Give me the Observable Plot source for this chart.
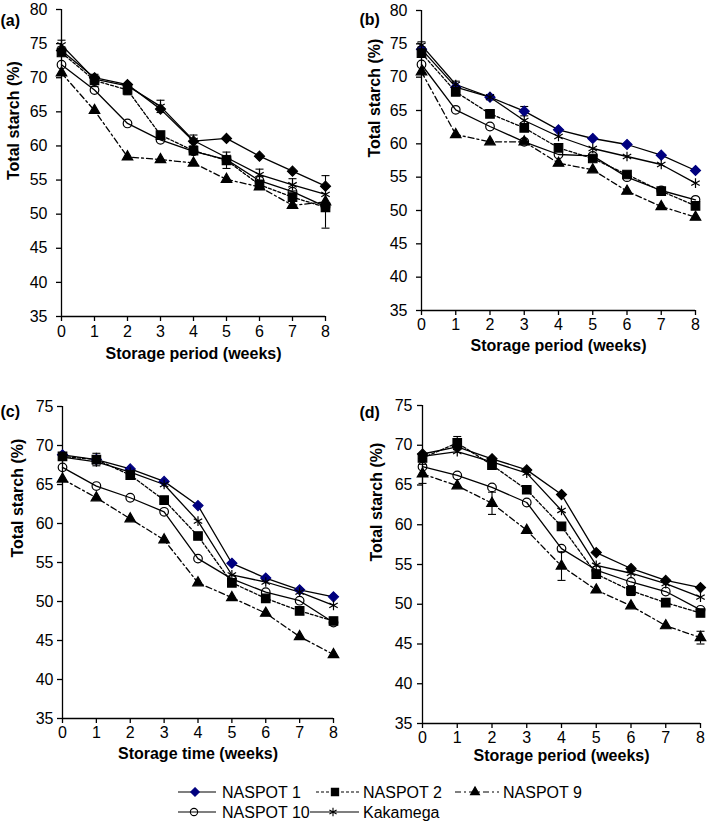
<!DOCTYPE html>
<html><head><meta charset="utf-8">
<script src="https://cdn.jsdelivr.net/npm/d3@7"></script>
<script src="https://cdn.jsdelivr.net/npm/@observablehq/plot@0.6"></script>
<style>
body{margin:0;background:#fff;}
#root{position:relative;width:709px;height:830px;font-family:"Liberation Sans",Arial,sans-serif;}
#root svg{position:absolute;overflow:visible;}
</style></head><body><div id="root"></div>
<script>
const weeks = [0,1,2,3,4,5,6,7,8];
const varieties = ["NASPOT 1","NASPOT 2","NASPOT 9","NASPOT 10","Kakamega"];
const yTicksTop = [35,40,45,50,55,60,65,70,75,80];
const yTicksBottom = [35,40,45,50,55,60,65,70,75];

// Panel (a)
const a_NASPOT1  = [74.0,70.0,69.0,65.4,60.7,61.1,58.5,56.3,54.1];
const a_NASPOT2  = [73.7,69.6,68.2,61.6,59.3,57.9,54.3,52.5,51.0];
const a_NASPOT9  = [70.7,65.2,58.4,58.0,57.5,55.1,54.0,51.3,51.8];
const a_NASPOT10 = [71.9,68.2,63.3,60.9,59.2,58.0,54.9,53.3,51.1];
const a_Kakamega = [74.8,69.8,68.8,65.8,60.8,58.3,55.8,54.3,52.9];
const a_errors = [["Kakamega",0,0.7],["NASPOT 2",1,0.9],["NASPOT 2",2,0.7],["Kakamega",3,0.9],["Kakamega",4,0.8],["NASPOT 2",5,1.2],["Kakamega",6,0.8],["Kakamega",7,0.9],["NASPOT 9",8,3.85]];

// Panel (b)
const b_NASPOT1  = [74.2,68.5,67.0,64.9,62.1,60.8,59.9,58.3,56.0];
const b_NASPOT2  = [73.6,67.8,64.5,62.4,59.4,57.8,55.4,52.9,50.7];
const b_NASPOT9  = [70.8,61.4,60.3,60.3,57.1,56.1,52.9,50.6,49.0];
const b_NASPOT10 = [71.9,65.1,62.6,60.3,58.4,58.2,55.0,53.0,51.6];
const b_Kakamega = [74.8,68.9,67.0,63.5,61.1,59.3,58.1,56.9,54.1];
const b_errors = [["Kakamega",0,0.5],["Kakamega",1,0.5],["Kakamega",2,0.4],["NASPOT 1",3,0.7]];

// Panel (c)
const c_NASPOT1  = [68.8,68.2,67.0,65.4,62.3,54.9,53.0,51.5,50.6];
const c_NASPOT2  = [68.6,68.2,66.2,63.0,58.4,52.4,50.4,48.8,47.5];
const c_NASPOT9  = [65.7,63.3,60.6,57.9,52.4,50.5,48.5,45.5,43.2];
const c_NASPOT10 = [67.2,64.8,63.3,61.5,55.5,52.9,51.2,50.1,47.3];
const c_Kakamega = [68.5,67.9,66.6,65.0,60.3,53.4,52.5,51.2,49.5];
const c_errors = [["NASPOT 2",1,0.8],["NASPOT 2",0,0.4]];

// Panel (d)
const d_NASPOT1  = [68.9,69.8,68.3,66.9,63.8,56.5,54.5,53.0,52.1];
const d_NASPOT2  = [68.4,70.3,67.5,64.4,59.8,53.8,51.7,50.2,48.9];
const d_NASPOT9  = [66.4,64.9,62.7,59.3,54.8,51.8,49.8,47.3,45.8];
const d_NASPOT10 = [67.3,66.2,64.7,62.8,57.0,54.3,52.8,51.6,49.3];
const d_Kakamega = [68.6,69.2,67.9,66.5,61.8,54.9,53.9,52.6,50.9];
const d_errors = [["NASPOT 2",1,0.8],["NASPOT 9",0,1.2],["NASPOT 9",2,1.4],["NASPOT 9",4,1.8],["NASPOT 9",8,0.8],["NASPOT 2",6,0.6]];

const NAVY = "#00007f";
const styles = {
  "NASPOT 1":  {dash: null,      symbol: "diamond2", r: 4.5, fill: "diamond", stroke: "diamond"},
  "NASPOT 2":  {dash: "3,2",     symbol: "square",   r: 4.8, fill: "black", stroke: "black"},
  "NASPOT 9":  {dash: "6,3,2,3", symbol: "triangle", r: 3.9, fill: "black", stroke: "black"},
  "NASPOT 10": {dash: null,      symbol: "circle",   r: 4.3, fill: "none",  stroke: "black"},
  "Kakamega":  {dash: null,      symbol: "asterisk", r: 4.6, fill: "none",  stroke: "black"}
};
const capSymbol = {draw(ctx){ ctx.moveTo(-4,0); ctx.lineTo(4,0); }};

function rows(arrays){
  const out = [];
  varieties.forEach((v,i) => weeks.forEach((w,j) => out.push({variety: v, week: w, value: arrays[i][j]})));
  return out;
}

function panel(o){
  const data = rows(o.series);
  const errs = o.errors.map(([v,w,e]) => {
    const val = data.find(d => d.variety === v && d.week === w).value;
    return {week: w, lo: val - e, hi: val + e};
  });
  const marks = [
    Plot.ruleY([o.yDomain[0]], {stroke: "black", strokeWidth: 1.3}),
    Plot.ruleX([0], {stroke: "black", strokeWidth: 1.3}),
    Plot.axisX({ticks: weeks, tickSize: 5, tickPadding: o.xPad, label: null, tickFormat: d => d, strokeWidth: 1.3}),
    Plot.axisY({ticks: o.yTicks, tickSize: 5, tickPadding: o.yPad, label: null, tickFormat: d => d, strokeWidth: 1.3}),
    Plot.ruleX(errs, {x: "week", y1: "lo", y2: "hi", stroke: "black", strokeWidth: 1.1}),
    Plot.dot(errs, {x: "week", y: "lo", symbol: capSymbol, stroke: "black", strokeWidth: 1.1}),
    Plot.dot(errs, {x: "week", y: "hi", symbol: capSymbol, stroke: "black", strokeWidth: 1.1})
  ];
  varieties.forEach(v => {
    const s = styles[v];
    const sub = data.filter(d => d.variety === v);
    marks.push(Plot.line(sub, {x: "week", y: "value", stroke: "black", strokeWidth: 1.3, strokeDasharray: s.dash || undefined}));
  });
  varieties.forEach(v => {
    const s = styles[v];
    const sub = data.filter(d => d.variety === v);
    const fill = s.fill === "diamond" ? o.diamond : s.fill;
    const stroke = s.stroke === "diamond" ? o.diamond : s.stroke;
    marks.push(Plot.dot(sub, {x: "week", y: "value", symbol: s.symbol, r: s.r, fill, stroke, strokeWidth: 1.2}));
  });
  marks.push(Plot.text([o.xTitle], {frameAnchor: "bottom", dy: o.xTitleDy, fontWeight: "bold", fontSize: 16}));
  marks.push(Plot.text(["Total starch (%)"], {frameAnchor: "left", rotate: -90, dx: o.yTitleDx, dy: o.yTitleDy, fontWeight: "bold", fontSize: 16}));
  marks.push(Plot.text([o.tag], {frameAnchor: "top-left", textAnchor: "start", dx: o.tagX - o.ml, dy: o.tagY - o.mt, fontWeight: "bold", fontSize: 16}));
  const svg = Plot.plot({
    width: o.w, height: o.h,
    marginTop: o.mt, marginBottom: o.mb, marginLeft: o.ml, marginRight: o.mr,
    x: {domain: [0, 8]},
    y: {domain: o.yDomain},
    style: {fontSize: "16px", fontFamily: '"Liberation Sans", Arial, sans-serif', color: "black", background: "white", overflow: "visible"},
    marks
  });
  svg.style.left = o.left + "px";
  svg.style.top = o.top + "px";
  document.getElementById("root").appendChild(svg);
}

panel({tag: "(a)", series: [a_NASPOT1,a_NASPOT2,a_NASPOT9,a_NASPOT10,a_Kakamega], errors: a_errors,
  left: 0, top: 0, w: 354, h: 370, mt: 9, mb: 54, ml: 61, mr: 29,
  yDomain: [35,80], yTicks: yTicksTop, xPad: 4, yPad: 9, xTitle: "Storage period (weeks)",
  xTitleDy: 42, yTitleDx: -48, yTitleDy: 17, tagX: 0, tagY: 14, diamond: "black"});
panel({tag: "(b)", series: [b_NASPOT1,b_NASPOT2,b_NASPOT9,b_NASPOT10,b_Kakamega], errors: b_errors,
  left: 354, top: 0, w: 355, h: 370, mt: 10, mb: 60, ml: 67, mr: 14,
  yDomain: [35,80], yTicks: yTicksTop, xPad: 3, yPad: 9, xTitle: "Storage period (weeks)",
  xTitleDy: 40, yTitleDx: -47, yTitleDy: -3, tagX: 5, tagY: 13, diamond: NAVY});
panel({tag: "(c)", series: [c_NASPOT1,c_NASPOT2,c_NASPOT9,c_NASPOT10,c_Kakamega], errors: c_errors,
  left: 0, top: 400, w: 354, h: 370, mt: 6, mb: 52, ml: 62, mr: 21,
  yDomain: [35,75], yTicks: yTicksBottom, xPad: 3, yPad: 4, xTitle: "Storage time (weeks)",
  xTitleDy: 40, yTitleDx: -45, yTitleDy: -5, tagX: 0, tagY: 5, diamond: NAVY});
panel({tag: "(d)", series: [d_NASPOT1,d_NASPOT2,d_NASPOT9,d_NASPOT10,d_Kakamega], errors: d_errors,
  left: 354, top: 400, w: 355, h: 370, mt: 5, mb: 47, ml: 68, mr: 9,
  yDomain: [35,75], yTicks: yTicksBottom, xPad: 3, yPad: 5, xTitle: "Storage period (weeks)",
  xTitleDy: 37, yTitleDx: -46, yTitleDy: -3, tagX: 5, tagY: 6, diamond: "black"});

// Legend
const legendItems = [
  {v: "NASPOT 1",  x1: 178, x2: 216, mx: 195, tx: 222, row: 0},
  {v: "NASPOT 2",  x1: 316, x2: 359, mx: 335, tx: 363, row: 0},
  {v: "NASPOT 9",  x1: 455, x2: 499, mx: 475, tx: 503, row: 0},
  {v: "NASPOT 10", x1: 178, x2: 216, mx: 194, tx: 222, row: 1},
  {v: "Kakamega",  x1: 310, x2: 359, mx: 333, tx: 363, row: 1}
];
const symbolMap = {diamond2: d3.symbolDiamond2, square: d3.symbolSquare, triangle: d3.symbolTriangle, circle: d3.symbolCircle, asterisk: d3.symbolAsterisk};
const leg = d3.select("#root").append("svg").attr("width", 709).attr("height", 60)
  .style("left", "0px").style("top", "770px");
legendItems.forEach(it => {
  const s = styles[it.v];
  const y = 22 + it.row * 20;
  leg.append("line").attr("x1", it.x1).attr("x2", it.x2).attr("y1", y).attr("y2", y)
    .attr("stroke", "black").attr("stroke-width", 1.2).attr("stroke-dasharray", s.dash);
  const fill = s.fill === "diamond" ? NAVY : s.fill;
  const stroke = s.stroke === "diamond" ? NAVY : s.stroke;
  leg.append("path").attr("d", d3.symbol(symbolMap[s.symbol], Math.PI * (s.r*0.85) ** 2)())
    .attr("transform", `translate(${it.mx},${y})`).attr("fill", fill).attr("stroke", stroke).attr("stroke-width", 1.1);
  leg.append("text").attr("x", it.tx).attr("y", y).attr("dy", "0.35em")
    .attr("font-size", 16).attr("font-family", '"Liberation Sans", Arial, sans-serif').text(it.v);
});
</script></body></html>
